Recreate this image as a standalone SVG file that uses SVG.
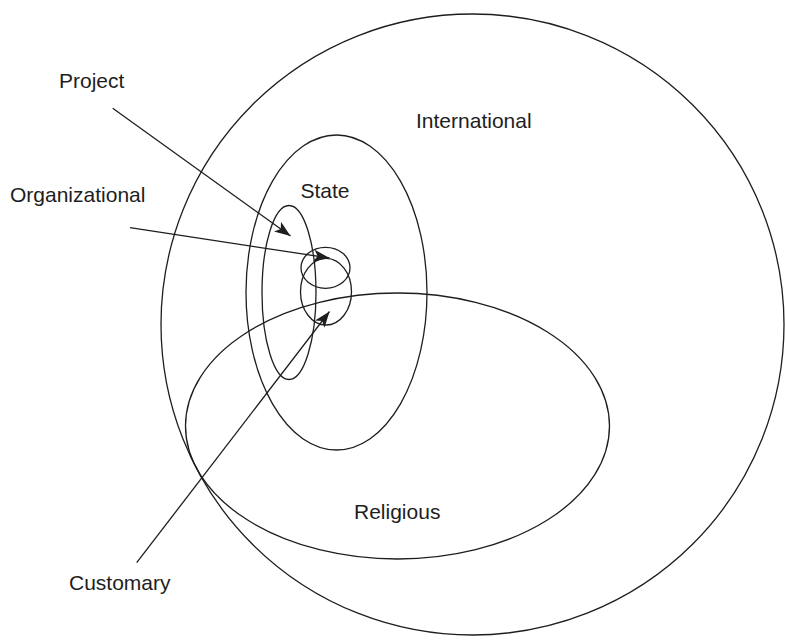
<svg xmlns="http://www.w3.org/2000/svg" width="785" height="640" viewBox="0 0 785 640">
  <style>
    .ring { fill: none; stroke: #1e1e1e; stroke-width: 1.3; }
    .label { font-family: "Liberation Sans", Arial, Helvetica, sans-serif; font-size: 21px; fill: #1e1e1e; }
    .pointer { fill: none; stroke: #1e1e1e; stroke-width: 1.3; marker-end: url(#head); }
  </style>
  <defs>
    <marker id="head" viewBox="0 0 16 12" refX="16" refY="6" markerWidth="16" markerHeight="12" markerUnits="userSpaceOnUse" orient="auto">
      <path d="M0,0 L16,6 L0,12 L4,6 Z" fill="#1e1e1e"/>
    </marker>
  </defs>
  <rect width="785" height="640" fill="#ffffff"/>

  <g id="international">
    <ellipse class="ring" cx="472.5" cy="324.5" rx="311.5" ry="310.5"/>
    <text class="label" x="416" y="128">International</text>
  </g>

  <g id="state">
    <ellipse class="ring" cx="336.5" cy="292.5" rx="90.5" ry="157.5"/>
    <text class="label" x="300.5" y="198">State</text>
  </g>

  <g id="religious">
    <ellipse class="ring" cx="397.5" cy="426" rx="212" ry="133"/>
    <text class="label" x="354" y="519">Religious</text>
  </g>

  <g id="project">
    <ellipse class="ring" cx="289" cy="292.5" rx="27" ry="87"/>
    <text class="label" x="59" y="88">Project</text>
  </g>

  <g id="organizational">
    <ellipse class="ring" cx="325.5" cy="267.8" rx="24.5" ry="20.5"/>
    <text class="label" x="10" y="202">Organizational</text>
  </g>

  <g id="customary">
    <ellipse class="ring" cx="326" cy="291.7" rx="25.5" ry="33.3"/>
    <text class="label" x="69" y="590">Customary</text>
  </g>

  <g id="connectors">
    <line class="pointer" x1="112.7" y1="108.3" x2="290.5" y2="236"/>
    <line class="pointer" x1="130" y1="227.7" x2="329.5" y2="258"/>
    <line class="pointer" x1="136.7" y1="562.7" x2="329.5" y2="311.5"/>
  </g>
</svg>
